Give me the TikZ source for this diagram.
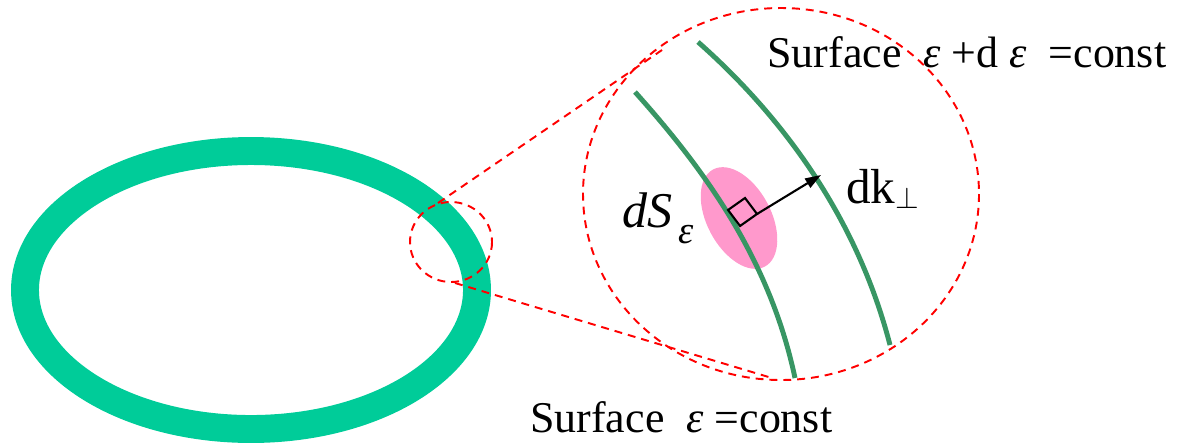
\documentclass[tikz,border=0pt]{standalone}
\usepackage{fontspec}
\setmainfont{Liberation Serif}
\usetikzlibrary{arrows.meta}
\definecolor{ringgreen}{RGB}{0,204,153}
\definecolor{darkgreen}{RGB}{56,150,100}
\definecolor{pinkpatch}{RGB}{255,153,204}
\tikzset{
  ring/.style={draw=ringgreen, line width=15.9pt},
  reddash/.style={draw=red, line width=1.1pt, dash pattern=on 4.5pt off 3.4pt},
  gcurve/.style={draw=darkgreen, line width=2.8pt},
  lbl/.style={inner sep=0pt, font=\fontsize{25}{28}\selectfont},
}
\begin{document}
\begin{tikzpicture}[x=0.02cm,y=-0.02cm]
\useasboundingbox (0,0) rectangle (1182,444);
% ring
\draw[ring] (251,290) ellipse [x radius=226, y radius=139];
% pink patch
\fill[pinkpatch] (739,218) ellipse [x radius=55, y radius=32, rotate=-62];
% dashed magnifier
\draw[reddash] (451,242) ellipse [x radius=41, y radius=40];
\draw[reddash] (781,194) ellipse [x radius=198, y radius=186];
\coordinate (s1) at (438,203);
\coordinate (e1) at (662,50);
\coordinate (s2) at (455,283);
\coordinate (e2) at (772,378);
\draw[reddash] (s1) -- (e1);
\draw[reddash] (s2) -- (e2);
% surfaces
\draw[gcurve] (635,92) .. controls (705,170) and (770,260) .. (795,378);
\draw[gcurve] (698,42) .. controls (775,110) and (855,210) .. (890,345);
% right angle and arrow
\coordinate (p0) at (740,226);
\coordinate (p1) at (728,210);
\coordinate (p2) at (745,198);
\coordinate (p3) at (757,214);
\draw[line width=1.2pt] (p0) -- (p1) -- (p2) -- (p3) -- cycle;
\coordinate (tip) at (821,175);
\draw[line width=1.2pt, -{Triangle[length=9pt,width=6pt]}] (p3) -- (tip);
% labels
\node[lbl, anchor=base west] (dS) at (622,227) {\fontsize{28.5}{30}\selectfont\itshape dS};
\node[lbl, anchor=base west] (eps) at (678,243) {\fontsize{22}{24}\selectfont\itshape ε};
\node[lbl, anchor=base west] (dk) at (846,203) {\fontsize{28}{30}\selectfont dk};
\node[lbl, anchor=base west] (perp) at (895,208) {\fontsize{16}{18}\selectfont$\perp$};
\node[lbl, anchor=base west] (top) at (767,67) {Surface\ \ \textit{ε} +d \textit{ε}\ \ =const};
\node[lbl, anchor=base west] (bot) at (530,432) {Surface\ \ \textit{ε} =const};
\end{tikzpicture}
\end{document}
